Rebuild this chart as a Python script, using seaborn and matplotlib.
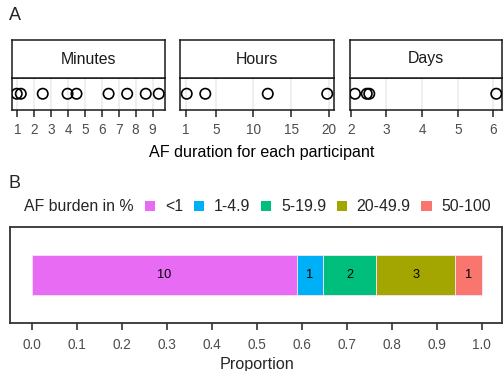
import matplotlib
matplotlib.use("Agg")
import matplotlib.pyplot as plt
import seaborn as sns
import numpy as np
import pandas as pd
from matplotlib.patches import Patch

# ---- data ----
minutes = [0.96, 1.2, 2.5, 3.97, 4.5, 6.4, 7.5, 8.6, 9.37]
hours = [1.13, 3.6, 11.9, 19.8]
days = [2.12, 2.45, 2.52, 6.08]
facet_names = ["Minutes", "Hours", "Days"]
facet_ticks = [[1, 2, 3, 4, 5, 6, 7, 8, 9], [1, 5, 10, 15, 20], [2, 3, 4, 5, 6]]
facet_lims = [(0.68, 9.74), (0.24, 20.7), (1.98, 6.24)]

burden_cats = ["<1", "1-4.9", "5-19.9", "20-49.9", "50-100"]
burden_counts = [10, 1, 2, 3, 1]
burden_colors = ["#E76BF3", "#00B0F6", "#00BF7D", "#A3A500", "#F8766D"]
prop_ticks = [0.0, 0.1, 0.2, 0.3, 0.4, 0.5, 0.6, 0.7, 0.8, 0.9, 1.0]

sns.set_theme(style="white")
plt.rcParams["font.family"] = ["Liberation Sans", "DejaVu Sans"]

W, H = 504, 371
fig = plt.figure(figsize=(W / 100, H / 100), dpi=100)


def rect(x0, y0, x1, y1):
    return [x0 / W, 1 - y1 / H, (x1 - x0) / W, (y1 - y0) / H]


tick_col = "#333333"
lab_col = "#4D4D4D"

# ---- Panel A ----
panel_x = [(12, 165), (180, 334), (350, 502)]
strip_top, strip_bot, pan_bot = 40, 78, 109.5
for name, vals, ticks, lims, (x0, x1) in zip(facet_names, [minutes, hours, days],
                                              facet_ticks, facet_lims, panel_x):
    ax = fig.add_axes(rect(x0, strip_bot, x1, pan_bot))
    df = pd.DataFrame({"x": vals, "y": np.zeros(len(vals))})
    ax.set_xlim(*lims)
    ax.set_ylim(-1, 1)
    for t in ticks:
        ax.axvline(t, color="#EBEBEB", lw=1.1, zorder=0)
    sns.scatterplot(data=df, x="x", y="y", ax=ax, s=56, facecolor="none",
                    edgecolor="black", linewidth=1.2, zorder=3)
    ax.set_xticks(ticks)
    ax.set_xticklabels([str(t) for t in ticks])
    ax.set_yticks([])
    ax.set_xlabel("")
    ax.set_ylabel("")
    ax.tick_params(axis="x", length=5, width=1.2, color=tick_col, labelcolor=lab_col,
                   labelsize=9.8, pad=5, bottom=True)
    for s in ax.spines.values():
        s.set_color("#1A1A1A")
        s.set_linewidth(1.1)
    # strip
    sax = fig.add_axes(rect(x0, strip_top, x1, strip_bot))
    sax.set_xticks([])
    sax.set_yticks([])
    sax.set_facecolor("white")
    for s in sax.spines.values():
        s.set_color("#1A1A1A")
        s.set_linewidth(1.1)
    sax.text(0.5, 0.5, name, ha="center", va="center", fontsize=11.4,
             color="#1A1A1A", transform=sax.transAxes)

fig.text(262 / W, 1 - 153 / H, "AF duration for each participant", ha="center",
         va="center", fontsize=11.6, color="black")
fig.text(9 / W, 1 - 16 / H, "A", ha="left", va="center", fontsize=13)

# ---- Panel B ----
fig.text(9 / W, 1 - 184 / H, "B", ha="left", va="center", fontsize=13)
axb = fig.add_axes(rect(10.3, 226.7, 501.7, 322.7))
total = sum(burden_counts)
props = [c / total for c in burden_counts]
lefts = np.concatenate([[0], np.cumsum(props)[:-1]])
for cat, p, l, c, col in zip(burden_cats, props, lefts, burden_counts, burden_colors):
    axb.barh([0], [p], left=[l], height=0.5, color=col, edgecolor="#FBE3F8",
             linewidth=0.6, label=cat)
    axb.text(l + p / 2, 0, str(c), ha="center", va="center", fontsize=9.2, color="black")
axb.set_xlim(-0.049, 1.0445)
axb.set_ylim(-0.6, 0.6)
axb.set_yticks([])
axb.set_xticks(prop_ticks)
axb.set_xticklabels([f"{t:.1f}" for t in prop_ticks])
axb.tick_params(axis="x", length=5, width=1.2, color=tick_col, labelcolor=lab_col,
                labelsize=9.8, pad=6, bottom=True)
for s in axb.spines.values():
    s.set_color("#333333")
    s.set_linewidth(1.3)
fig.text(257 / W, 1 - 364 / H, "Proportion", ha="center", va="center", fontsize=11.6)

# legend
fig.text(24 / W, 1 - 207 / H, "AF burden in %", ha="left", va="center", fontsize=11.4)
handles = [Patch(facecolor=c, edgecolor="none") for c in burden_colors]
leg = fig.legend(handles, burden_cats, loc="center left",
                 bbox_to_anchor=(145 / W, 1 - 207 / H), ncol=5, frameon=False,
                 fontsize=11.4, handlelength=0.66, handleheight=0.66,
                 handletextpad=0.6, columnspacing=0.68, borderaxespad=0, borderpad=0)

fig.savefig("out.png", dpi=100)
